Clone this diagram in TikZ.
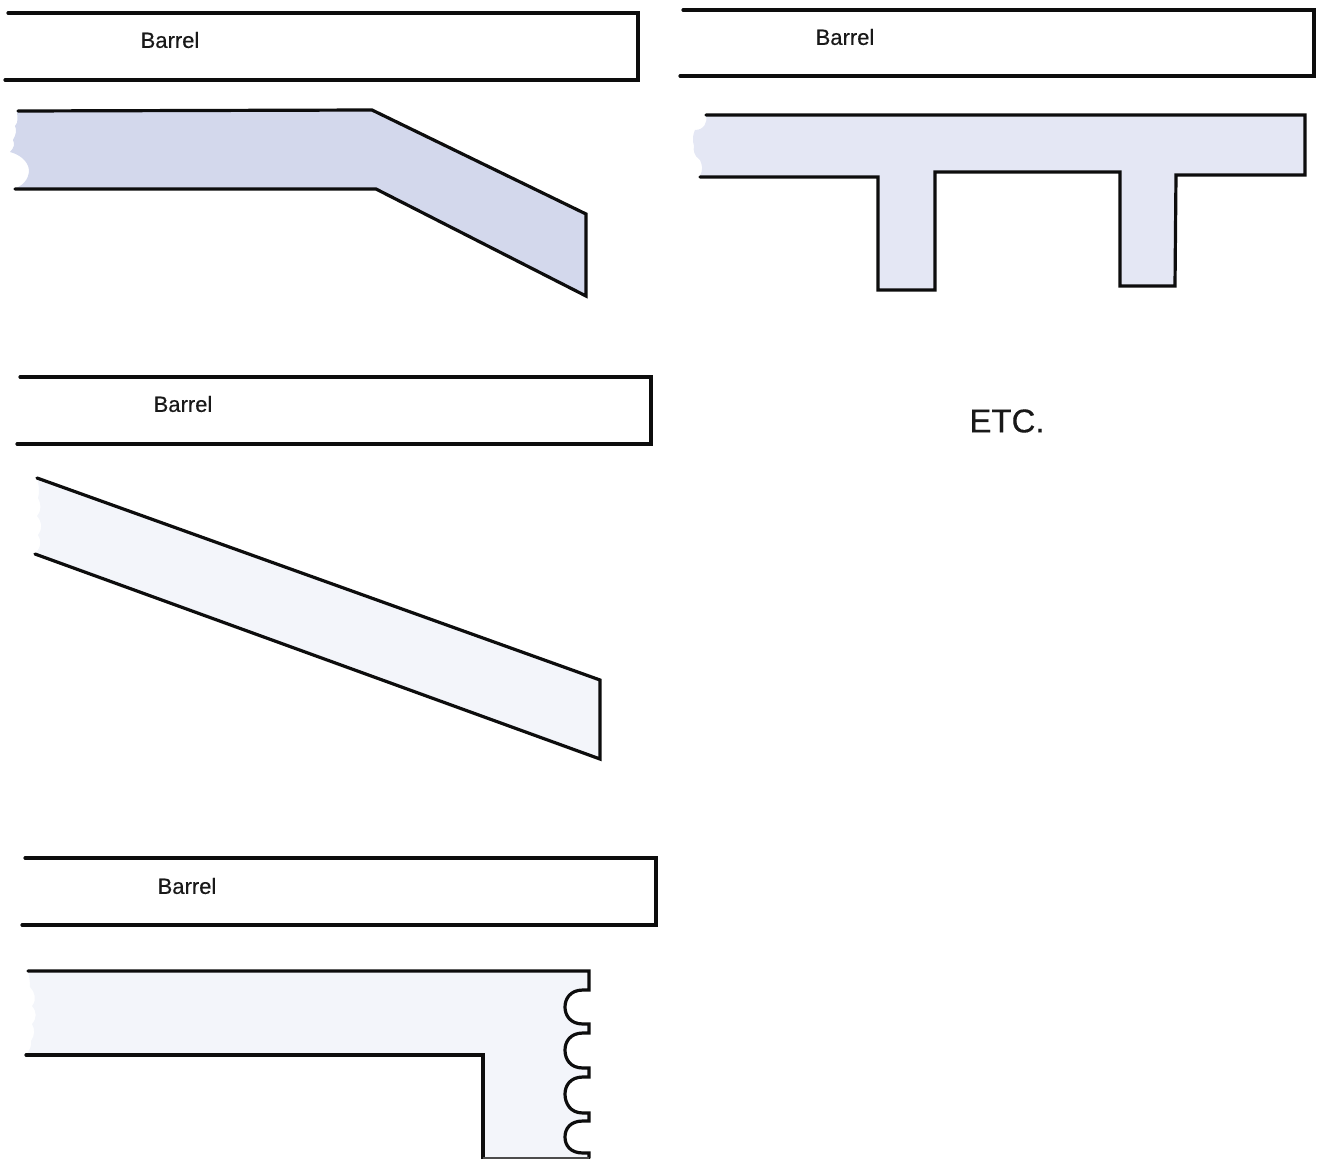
\documentclass[tikz,border=0pt]{standalone}
\usepackage{fontspec}
\setmainfont{Liberation Sans}
\newfontfamily\barrelfont[FakeBold=0.35]{Liberation Sans}
\definecolor{fillA}{RGB}{211,216,236}
\definecolor{fillB}{RGB}{228,231,244}
\definecolor{fillC}{RGB}{243,245,250}
\tikzset{
  outl/.style={line width=3.2pt,draw=black!95,line join=miter,line cap=round},
  lbl/.style={font=\barrelfont\fontsize{22}{26}\selectfont,text=black!90,inner sep=0pt,anchor=center},
  etc/.style={font=\barrelfont\fontsize{33}{38}\selectfont,text=black!90,inner sep=0pt,anchor=center}
}
\begin{document}
\begin{tikzpicture}[x=1pt,y=-1pt]
\useasboundingbox (0,0) rectangle (1318,1159);
% Barrels
\draw[outl] (5,80) -- (638,80) -- (638,13) -- (8,13);
\node[lbl] (b1) at (170,40) {Barrel};
\draw[outl] (680,76) -- (1314,76) -- (1314,10) -- (683,10);
\node[lbl] (b2) at (845,37) {Barrel};
\draw[outl] (17,444) -- (651,444) -- (651,377) -- (20,377);
\node[lbl] (b3) at (183,404) {Barrel};
\draw[outl] (22,925) -- (656,925) -- (656,858) -- (25,858);
\node[lbl] (b4) at (187,886) {Barrel};
\node[etc] (etc) at (1007,421) {ETC.};
% Part 1
\fill[fillA] (17,111) -- (372,110) -- (586,214) -- (586,296) -- (376,189) -- (14,189)
  .. controls (22,186) and (29,180) .. (29,170)
  .. controls (28,160) and (18,154) .. (10,152)
  .. controls (14,148) and (15,144) .. (13,140)
  .. controls (16,135) and (17,130) .. (15,126)
  .. controls (19,122) and (17,116) .. (17,111) -- cycle;
\draw[outl] (18,111) -- (372,110) -- (586,214) -- (586,296) -- (376,189) -- (15,189);
% Part 2
\fill[fillC] (37,478) -- (600,680) -- (600,759) -- (35,554)
  .. controls (41,547) and (42,541) .. (38,535)
  .. controls (43,528) and (42,522) .. (37,516)
  .. controls (42,510) and (41,504) .. (38,498)
  .. controls (40,492) and (39,485) .. (37,478) -- cycle;
\draw[outl] (37,478) -- (600,680) -- (600,759) -- (35,554);
% Part 3
\fill[fillC] (28,971) -- (589,971) -- (589,990) -- (583,990)
  .. controls (570,990) and (565,999) .. (565,1007)
  .. controls (565,1015) and (570,1024) .. (583,1024) -- (589,1024) -- (589,1033) -- (583,1033)
  .. controls (570,1033) and (565,1042) .. (565,1050)
  .. controls (565,1059) and (570,1068) .. (583,1068) -- (589,1068) -- (589,1077) -- (583,1077)
  .. controls (570,1077) and (565,1086) .. (565,1094)
  .. controls (565,1103) and (570,1113) .. (583,1113) -- (589,1113) -- (589,1121) -- (583,1121)
  .. controls (570,1121) and (565,1129) .. (565,1137)
  .. controls (565,1145) and (570,1153) .. (583,1153) -- (589,1153) -- (589,1158) -- (483,1158) -- (483,1055) -- (26,1055)
  .. controls (30,1050) and (32,1045) .. (31,1041)
  .. controls (35,1035) and (35,1029) .. (32,1024)
  .. controls (37,1018) and (37,1012) .. (32,1006)
  .. controls (37,1000) and (35,992) .. (30,987)
  .. controls (30,981) and (29,976) .. (28,971) -- cycle;
\draw[outl] (28,971) -- (589,971) -- (589,990) -- (583,990)
  .. controls (570,990) and (565,999) .. (565,1007)
  .. controls (565,1015) and (570,1024) .. (583,1024) -- (589,1024) -- (589,1033) -- (583,1033)
  .. controls (570,1033) and (565,1042) .. (565,1050)
  .. controls (565,1059) and (570,1068) .. (583,1068) -- (589,1068) -- (589,1077) -- (583,1077)
  .. controls (570,1077) and (565,1086) .. (565,1094)
  .. controls (565,1103) and (570,1113) .. (583,1113) -- (589,1113) -- (589,1121) -- (583,1121)
  .. controls (570,1121) and (565,1129) .. (565,1137)
  .. controls (565,1145) and (570,1153) .. (583,1153) -- (589,1153) -- (589,1158);
\draw[outl] (26,1055) -- (483,1055) -- (483,1159);
\draw[line width=1.5pt,draw=black!70] (483,1158) -- (589,1158);
% Part 4
\fill[fillB] (706,115) -- (1305,115) -- (1305,175) -- (1176,175) -- (1175,286) -- (1120,286) -- (1120,172) -- (935,172) -- (935,290) -- (878,290) -- (878,177) -- (699,177)
  .. controls (704,170) and (702,165) .. (700,160)
  .. controls (694,156) and (693,150) .. (694,146)
  .. controls (692,140) and (693,134) .. (695,130)
  .. controls (704,130) and (708,122) .. (706,115) -- cycle;
\draw[outl] (706,115) -- (1305,115) -- (1305,175) -- (1176,175) -- (1175,286) -- (1120,286) -- (1120,172) -- (935,172) -- (935,290) -- (878,290) -- (878,177) -- (700,177);
\end{tikzpicture}
\end{document}
